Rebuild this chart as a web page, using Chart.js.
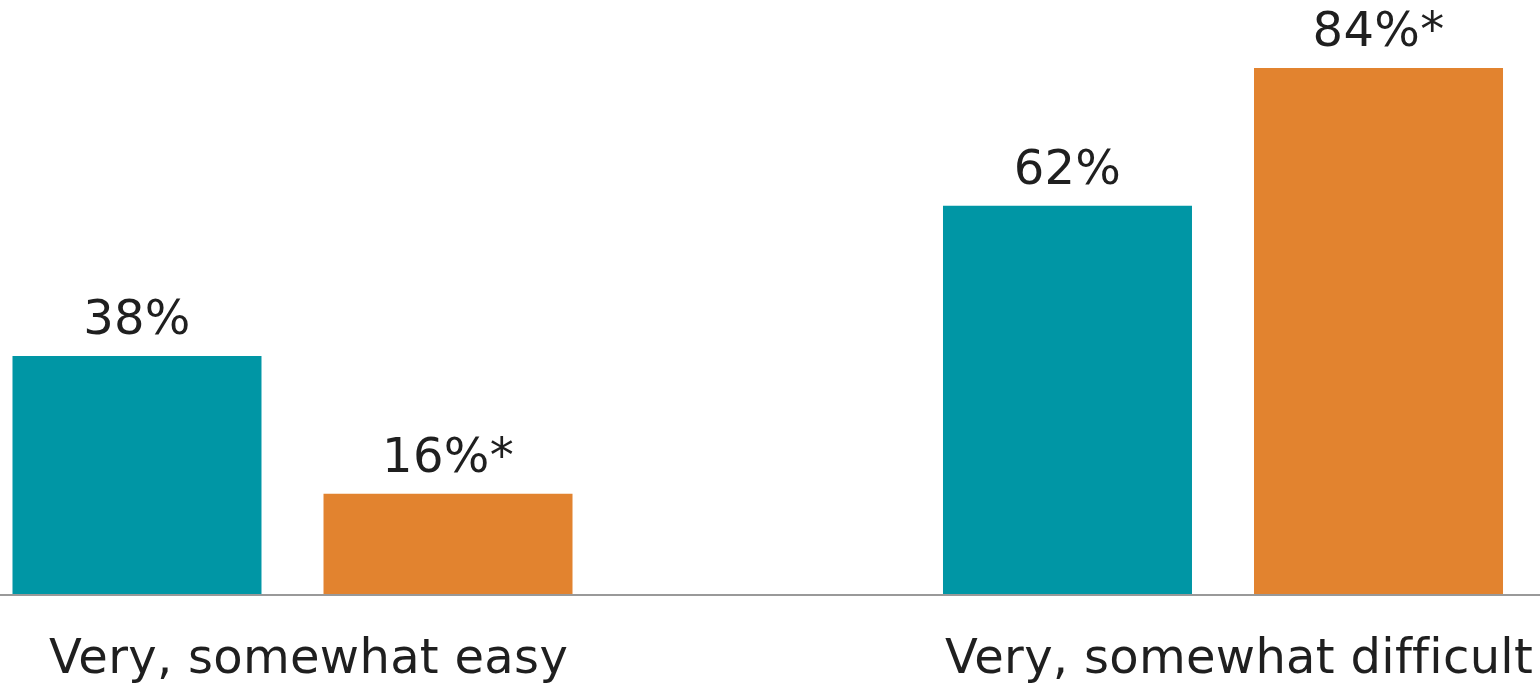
<!DOCTYPE html>
<html>
<head>
<meta charset="utf-8">
<title>Ease of access</title>
<script src="https://cdn.jsdelivr.net/npm/chart.js@4.4.1/dist/chart.umd.min.js"></script>
<style>
  html, body { margin: 0; padding: 0; background: #ffffff; }
  canvas { display: block; }
</style>
</head>
<body>
<canvas id="chart" width="1540" height="684"></canvas>
<script>
// Response categories and the two groups' shares (percent)
const categories = ['Very, somewhat easy', 'Very, somewhat difficult'];
const groupAValues = [38, 62];
const groupBValues = [16, 84];
// Printed labels; an asterisk marks a significant difference
const groupALabels = ['38%', '62%'];
const groupBLabels = ['16%*', '84%*'];

const TEAL = '#0096A5';
const ORANGE = '#E2832F';
const FONT = '"DejaVu Sans", Verdana, sans-serif';

// Slight tracking on all canvas text (also keeps "ffi" as separate letters)
const tracking = {
  id: 'tracking',
  beforeDraw(chart) { chart.ctx.letterSpacing = '0.3px'; }
};

// Writes each bar's value label just above it
const valueLabels = {
  id: 'valueLabels',
  afterDatasetsDraw(chart) {
    const ctx = chart.ctx;
    ctx.save();
    ctx.font = '48px ' + FONT;
    ctx.fillStyle = '#1f1f1f';
    ctx.textAlign = 'center';
    ctx.textBaseline = 'alphabetic';
    chart.data.datasets.forEach((ds, di) => {
      const meta = chart.getDatasetMeta(di);
      meta.data.forEach((bar, i) => {
        ctx.fillText(ds.valueLabels[i], bar.x, bar.y - 22);
      });
    });
    ctx.restore();
  }
};

// Baseline running across the full width at zero
const baseline = {
  id: 'baseline',
  afterDraw(chart) {
    const ctx = chart.ctx;
    const y = Math.round(chart.scales.y.getPixelForValue(0));
    ctx.save();
    ctx.strokeStyle = '#999999';
    ctx.lineWidth = 2;
    ctx.beginPath();
    ctx.moveTo(0, y + 1);
    ctx.lineTo(chart.width, y + 1);
    ctx.stroke();
    ctx.restore();
  }
};

new Chart(document.getElementById('chart'), {
  type: 'bar',
  data: {
    labels: categories,
    datasets: [
      { data: groupAValues, valueLabels: groupALabels, backgroundColor: TEAL, clip: false },
      { data: groupBValues, valueLabels: groupBLabels, backgroundColor: ORANGE, clip: false }
    ]
  },
  options: {
    responsive: false,
    devicePixelRatio: 1,
    animation: false,
    categoryPercentage: 0.6685,
    barPercentage: 0.8006,
    layout: { padding: { left: 292.5, right: 317, top: 30.4, bottom: 0 } },
    plugins: { legend: { display: false }, tooltip: { enabled: false } },
    scales: {
      x: {
        offset: false,
        grid: { display: false, drawTicks: false },
        border: { display: false },
        ticks: {
          color: '#1f1f1f',
          font: { family: FONT, size: 48 },
          padding: 38,
          labelOffset: 16,
          maxRotation: 0,
          autoSkip: false
        },
        afterFit(scale) {
          scale.height = 90;
          scale.paddingLeft = 0;
          scale.paddingRight = 0;
        }
      },
      y: {
        display: false,
        min: 0,
        max: 90
      }
    }
  },
  plugins: [tracking, valueLabels, baseline]
});
</script>
</body>
</html>
